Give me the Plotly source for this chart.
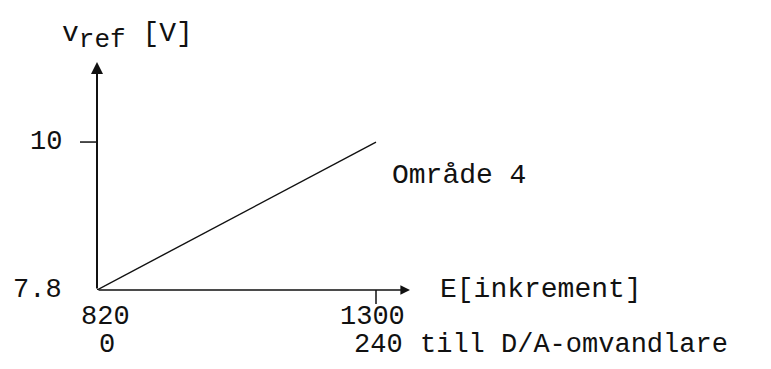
import plotly.graph_objects as go

# Data
x_vals = [820, 1300]          # E [inkrement]
y_vals = [7.8, 10]            # v_ref [V]
xtick_vals = [820, 1300]
xtick_text = ["820", "1300"]
dac_text = ["0", "240"]
ytick_vals = [7.8, 10]
ytick_text = ["7.8", "10"]

X_MAX = 1358.5
Y_MAX = 11.19

FONT = "Liberation Mono"
BLACK = "#111111"

fig = go.Figure()
fig.add_trace(go.Scatter(x=x_vals, y=y_vals, mode="lines",
                         line=dict(color=BLACK, width=1.4),
                         showlegend=False, hoverinfo="skip"))

ann = []
# axes with arrowheads
ann.append(dict(x=X_MAX, y=y_vals[0], ax=x_vals[0], ay=y_vals[0],
                xref="x", yref="y", axref="x", ayref="y", text="",
                showarrow=True, arrowhead=2, arrowsize=1.2, arrowwidth=1.6,
                arrowcolor=BLACK))
ann.append(dict(x=x_vals[0], y=Y_MAX, ax=x_vals[0], ay=y_vals[0],
                xref="x", yref="y", axref="x", ayref="y", text="",
                showarrow=True, arrowhead=2, arrowsize=1.2, arrowwidth=2,
                arrowcolor=BLACK))

# y tick labels
for v, t in zip(ytick_vals, ytick_text):
    ann.append(dict(x=x_vals[0], y=v, xref="x", yref="y", text=t,
                    showarrow=False, xanchor="right", yanchor="middle",
                    xshift=-33, font=dict(family=FONT, size=27, color=BLACK)))
# x tick labels (two rows)
for v, t, d in zip(xtick_vals, xtick_text, dac_text):
    ann.append(dict(x=v, y=y_vals[0], xref="x", yref="y", text=t,
                    showarrow=False, xanchor="center", yanchor="middle",
                    yshift=-27, xshift=8 if v == xtick_vals[0] else -4,
                    font=dict(family=FONT, size=27, color=BLACK)))
    ann.append(dict(x=v, y=y_vals[0], xref="x", yref="y", text=d,
                    showarrow=False, xanchor="center", yanchor="middle",
                    yshift=-55, xshift=10 if v == xtick_vals[0] else 2,
                    font=dict(family=FONT, size=27, color=BLACK)))

ann.append(dict(x=xtick_vals[1], y=y_vals[0], xref="x", yref="y",
                text="till D/A-omvandlare", showarrow=False,
                xanchor="left", yanchor="middle", xshift=42, yshift=-55,
                font=dict(family=FONT, size=27, color=BLACK)))
ann.append(dict(x=X_MAX, y=y_vals[0], xref="x", yref="y",
                text="E[inkrement]", showarrow=False,
                xanchor="left", yanchor="middle", xshift=28, yshift=1,
                font=dict(family=FONT, size=28, color=BLACK)))
ann.append(dict(x=x_vals[1], y=y_vals[1], xref="x", yref="y",
                text="Område 4", showarrow=False,
                xanchor="left", yanchor="middle", xshift=14, yshift=-33,
                font=dict(family=FONT, size=28, color=BLACK)))
ann.append(dict(x=x_vals[0], y=1, xref="x", yref="paper",
                text="v<sub><span style='font-size:26px'>ref</span></sub> [V]",
                showarrow=False,
                xanchor="left", yanchor="middle", xshift=-37, yshift=26,
                font=dict(family=FONT, size=28, color=BLACK)))

# tick marks (pixel length)
shapes = [
    dict(type="line", xref="paper", yref="y",
         x0=-17 / 313, x1=0, y0=ytick_vals[1], y1=ytick_vals[1],
         line=dict(color=BLACK, width=1.5)),
    dict(type="line", xref="x", yref="paper",
         x0=xtick_vals[1], x1=xtick_vals[1], y0=0, y1=-14 / 228,
         line=dict(color=BLACK, width=1.5)),
]

fig.update_layout(
    width=771, height=369,
    margin=dict(l=89, r=369, t=54, b=87),
    paper_bgcolor="white", plot_bgcolor="white",
    xaxis=dict(range=[820, X_MAX], visible=False),
    yaxis=dict(range=[7.8, Y_MAX], visible=False),
    annotations=ann, shapes=shapes,
)

fig.write_html("out.html")
